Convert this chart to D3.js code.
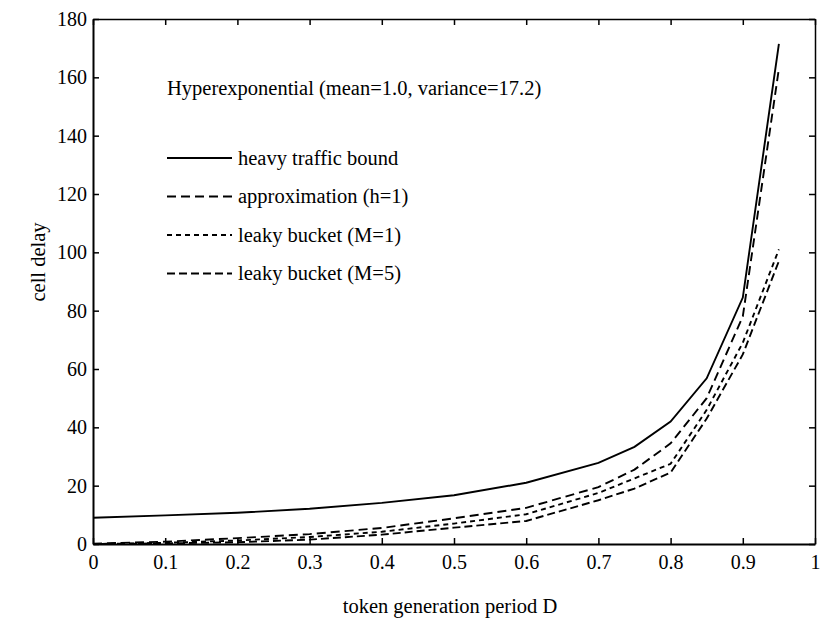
<!DOCTYPE html>
<html>
<head>
<meta charset="UTF-8">
<script src="https://d3js.org/d3.v7.min.js"></script>
<style>
  body { margin: 0; background: #fff; }
  svg { font-family: "Liberation Serif", "DejaVu Serif", serif; }
</style>
</head>
<body>
<svg></svg>
<script>
const width = 822;
const height = 622;
const margin = {top: 19, right: 7, bottom: 78, left: 93};

// token generation period D
const periods = [0, 0.1, 0.2, 0.3, 0.4, 0.5, 0.6, 0.7, 0.75, 0.8, 0.85, 0.9, 0.95];
const heavyBound = [9.0, 9.8, 10.7, 12.1, 14.1, 16.7, 21.0, 27.8, 33.3, 42.0, 56.8, 84.5, 171.5];
const approxH1 = [0.1, 0.8, 2.0, 3.4, 5.5, 8.8, 12.4, 19.5, 25.5, 34.5, 50.0, 78.0, 163.0];
const leakyM1 = [0, 0.4, 1.2, 2.4, 4.2, 7.0, 10.2, 17.5, 22.5, 27.5, 46.0, 69.0, 101.0];
const leakyM5 = [0, 0.2, 0.6, 1.5, 3.2, 5.6, 7.9, 15.0, 19.0, 24.5, 43.0, 65.0, 97.0];

const xTicks = [0, 0.1, 0.2, 0.3, 0.4, 0.5, 0.6, 0.7, 0.8, 0.9, 1];
const yTicks = [0, 20, 40, 60, 80, 100, 120, 140, 160, 180];

const seriesNames = ["heavy traffic bound", "approximation (h=1)", "leaky bucket (M=1)", "leaky bucket (M=5)"];
const seriesDash = [null, "9,5", "5,4", "8,4"];
const seriesValues = [heavyBound, approxH1, leakyM1, leakyM5];

const x = d3.scaleLinear().domain([0, 1]).range([margin.left, width - margin.right]);
const y = d3.scaleLinear().domain([0, 180]).range([height - margin.bottom, margin.top]);

const svg = d3.select("svg")
    .attr("width", width)
    .attr("height", height)
    .attr("viewBox", [0, 0, width, height]);

const tickLen = 6;
const fmtX = d => d === 0 || d === 1 ? String(d) : d3.format(".1f")(d);

// bottom axis, ticks pointing in
svg.append("g")
    .attr("transform", `translate(0,${height - margin.bottom})`)
    .call(d3.axisBottom(x).tickValues(xTicks).tickFormat(fmtX).tickSizeInner(-tickLen).tickSizeOuter(0).tickPadding(11))
    .call(g => g.select(".domain").attr("stroke-width", 2))
    .call(g => g.selectAll(".tick line").attr("stroke-width", 1.5))
    .call(g => g.selectAll(".tick text").attr("font-size", 20).attr("font-family", "Liberation Serif").attr("fill", "#000"));

// top axis
svg.append("g")
    .attr("transform", `translate(0,${margin.top})`)
    .call(d3.axisTop(x).tickValues(xTicks).tickFormat("").tickSizeInner(-tickLen).tickSizeOuter(0))
    .call(g => g.select(".domain").attr("stroke-width", 1.5))
    .call(g => g.selectAll(".tick line").attr("stroke-width", 1.5));

// left axis
svg.append("g")
    .attr("transform", `translate(${margin.left},0)`)
    .call(d3.axisLeft(y).tickValues(yTicks).tickSizeInner(-tickLen).tickSizeOuter(0).tickPadding(6))
    .call(g => g.select(".domain").attr("stroke-width", 2))
    .call(g => g.selectAll(".tick line").attr("stroke-width", 1.5))
    .call(g => g.selectAll(".tick text").attr("font-size", 20).attr("font-family", "Liberation Serif").attr("fill", "#000"));

// right axis
svg.append("g")
    .attr("transform", `translate(${width - margin.right},0)`)
    .call(d3.axisRight(y).tickValues(yTicks).tickFormat("").tickSizeInner(-tickLen).tickSizeOuter(0))
    .call(g => g.select(".domain").attr("stroke-width", 1.5))
    .call(g => g.selectAll(".tick line").attr("stroke-width", 1.5));

// curves
const line = d3.line()
    .x((d, i) => x(periods[i]))
    .y(d => y(d));

svg.append("g")
  .selectAll("path")
  .data(seriesValues)
  .join("path")
    .attr("fill", "none")
    .attr("stroke", "#000")
    .attr("stroke-width", 1.9)
    .attr("stroke-dasharray", (d, i) => seriesDash[i])
    .attr("d", line);

// title text inside the plot
svg.append("text")
    .attr("x", 167)
    .attr("y", 95)
    .attr("font-size", 20.5)
    .text("Hyperexponential (mean=1.0, variance=17.2)");

// legend
const legend = svg.append("g")
  .selectAll("g")
  .data(seriesNames)
  .join("g")
    .attr("transform", (d, i) => `translate(167,${158 + i * 38.5})`);

legend.append("line")
    .attr("x1", 0)
    .attr("x2", 65)
    .attr("stroke", "#000")
    .attr("stroke-width", 1.9)
    .attr("stroke-dasharray", (d, i) => seriesDash[i]);

legend.append("text")
    .attr("x", 71)
    .attr("dy", "0.32em")
    .attr("font-size", 20.5)
    .text(d => d);

// axis titles
svg.append("text")
    .attr("x", 450)
    .attr("y", 613)
    .attr("text-anchor", "middle")
    .attr("font-size", 20.5)
    .text("token generation period D");

svg.append("text")
    .attr("transform", `translate(45,262) rotate(-90)`)
    .attr("text-anchor", "middle")
    .attr("font-size", 20.5)
    .text("cell delay");
</script>
</body>
</html>
